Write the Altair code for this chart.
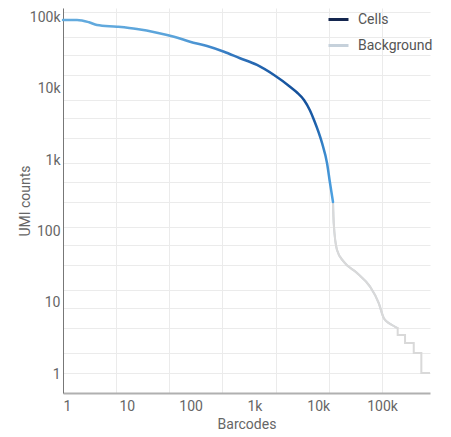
import altair as alt
import pandas as pd

# ---- data ----
cells_x = [1, 1.66, 2.56, 3.41, 7.02, 14.4, 29.7, 54.9, 97.9, 181, 334, 595,
           1099, 2028, 3612, 4652, 5987, 7435, 8590, 11470, 13740, 15310, 17060]
cells_y = [92300, 92300, 85700, 78500, 74300, 69000, 61300, 53800, 45800, 39800, 33100, 26800,
           21600, 15600, 10700, 8870, 6970, 4963, 3650, 1740, 910, 477, 258]

bg_smooth_x = [17060, 17500, 19700, 25100, 40600, 64900, 88800, 106400, 119800, 143500, 171900]
bg_smooth_y = [258, 131, 54.8, 37.6, 26.1, 16.8, 9.9, 6.1, 5.4, 4.87, 4.42]
bg_step_x = [171900, 176000, 176000, 229500, 229500, 314300, 314300, 413300, 413300, 565000]
bg_step_y = [4.42, 4.42, 3.52, 3.52, 2.72, 2.72, 1.97, 1.97, 1.03, 1.03]

x_ticks = [1, 10, 100, 1000, 10000, 100000]
y_ticks = [1, 10, 100, 1000, 10000, 100000]
x_grid = [1, 6.81, 46.4, 316, 2154, 14680, 100000]
y_grid = [1.03, 1.97, 4.42, 8.43, 15.1, 33.8, 64.5, 115, 258, 493, 911, 2042, 3894,
          6966, 15620, 29790, 53300, 119400]

series = ["Cells", "Background"]
series_colors = ["#14264f", "#c6d1db"]
bg_line_color = "#d9d9d9"

# colour along the cells curve (relative horizontal position -> colour)
shade_pos = [0, 0.42, 0.552, 0.681, 0.793, 0.885, 0.933, 0.963, 1.0]
shade_col = ["#64acdf", "#5aa3da", "#4088cc", "#2a6cb5", "#1a5aa5", "#134e98",
             "#1c5ea9", "#3583c8", "#4ea2e2"]

# ---- tables ----
cells_df = pd.DataFrame({"x": cells_x, "y": cells_y, "i": range(len(cells_x))})
bg_smooth_df = pd.DataFrame({"x": bg_smooth_x, "y": bg_smooth_y, "series": "Background",
                             "i": range(len(bg_smooth_x))})
bg_step_df = pd.DataFrame({"x": bg_step_x, "y": bg_step_y, "i": range(len(bg_step_x))})

xscale = alt.Scale(type="log", domain=[1, 565000], nice=False)
yscale = alt.Scale(type="log", domain=[0.5415, 135900], nice=False)

label_expr = "datum.value >= 1000 ? format(datum.value / 1000, 'd') + 'k' : format(datum.value, 'd')"

grid_x_axis = alt.Axis(values=x_grid, orient="bottom", labels=False, ticks=False, domain=False,
                       title=None, grid=True, gridColor="#ebebeb", gridWidth=1)
grid_y_axis = alt.Axis(values=y_grid, orient="left", labels=False, ticks=False, domain=False,
                       title=None, grid=True, gridColor="#ebebeb", gridWidth=1)

main_x_axis = alt.Axis(values=x_ticks, orient="bottom", grid=False, ticks=False,
                       labelExpr=label_expr, labelFontSize=14, labelColor="#666666",
                       labelPadding=6, domainColor="#b0b0b0", domainWidth=2,
                       title="Barcodes", titleFontSize=14, titleFontWeight="normal",
                       titleColor="#666666", titlePadding=4)
main_y_axis = alt.Axis(values=y_ticks, orient="left", grid=False, ticks=False,
                       labelExpr=label_expr, labelFontSize=14, labelColor="#666666",
                       labelPadding=3, domainColor="#777777", domainWidth=1,
                       title="UMI counts", titleFontSize=14, titleFontWeight="normal",
                       titleColor="#666666", titlePadding=-3)

# grid + legend layer (grey line under the drawn one)
bg_layer = alt.Chart(bg_smooth_df).mark_line(strokeWidth=2, interpolate="monotone").encode(
    x=alt.X("x:Q", scale=xscale, axis=grid_x_axis),
    y=alt.Y("y:Q", scale=yscale, axis=grid_y_axis),
    order=alt.Order("i:Q"),
    color=alt.Color("series:N",
                    scale=alt.Scale(domain=series, range=series_colors),
                    legend=alt.Legend(title=None, orient="none", legendX=264, legendY=0,
                                      symbolType="stroke", symbolStrokeWidth=3,
                                      symbolSize=400, labelFontSize=14,
                                      labelColor="#555555", rowPadding=7,
                                      labelOffset=8)),
)
bg_smooth = alt.Chart(bg_smooth_df).mark_line(strokeWidth=2, color=bg_line_color,
                                              interpolate="monotone").encode(
    x=alt.X("x:Q", scale=xscale, axis=None),
    y=alt.Y("y:Q", scale=yscale, axis=None),
    order=alt.Order("i:Q"),
)
bg_step = alt.Chart(bg_step_df).mark_line(strokeWidth=2, color=bg_line_color).encode(
    x=alt.X("x:Q", scale=xscale, axis=None),
    y=alt.Y("y:Q", scale=yscale, axis=None),
    order=alt.Order("i:Q"),
)

cells_gradient = alt.LinearGradient(
    gradient="linear",
    stops=[alt.GradientStop(offset=o, color=c) for o, c in zip(shade_pos, shade_col)],
    x1=0, x2=1, y1=0, y2=0,
)
cells_layer = alt.Chart(cells_df).mark_line(strokeWidth=2.5, strokeCap="round",
                                            interpolate="monotone",
                                            color=cells_gradient).encode(
    x=alt.X("x:Q", scale=xscale, axis=main_x_axis),
    y=alt.Y("y:Q", scale=yscale, axis=main_y_axis),
    order=alt.Order("i:Q"),
)

chart = alt.layer(bg_layer, bg_smooth, bg_step, cells_layer).resolve_axis(
    x="independent", y="independent"
).properties(
    width=367, height=385,
    padding={"left": 10, "top": 0, "right": 0, "bottom": 0},
).configure(
    font="Roboto",
).configure_view(
    stroke=None,
)

chart.save("out.html", embed_options={"renderer": "svg", "actions": False})
